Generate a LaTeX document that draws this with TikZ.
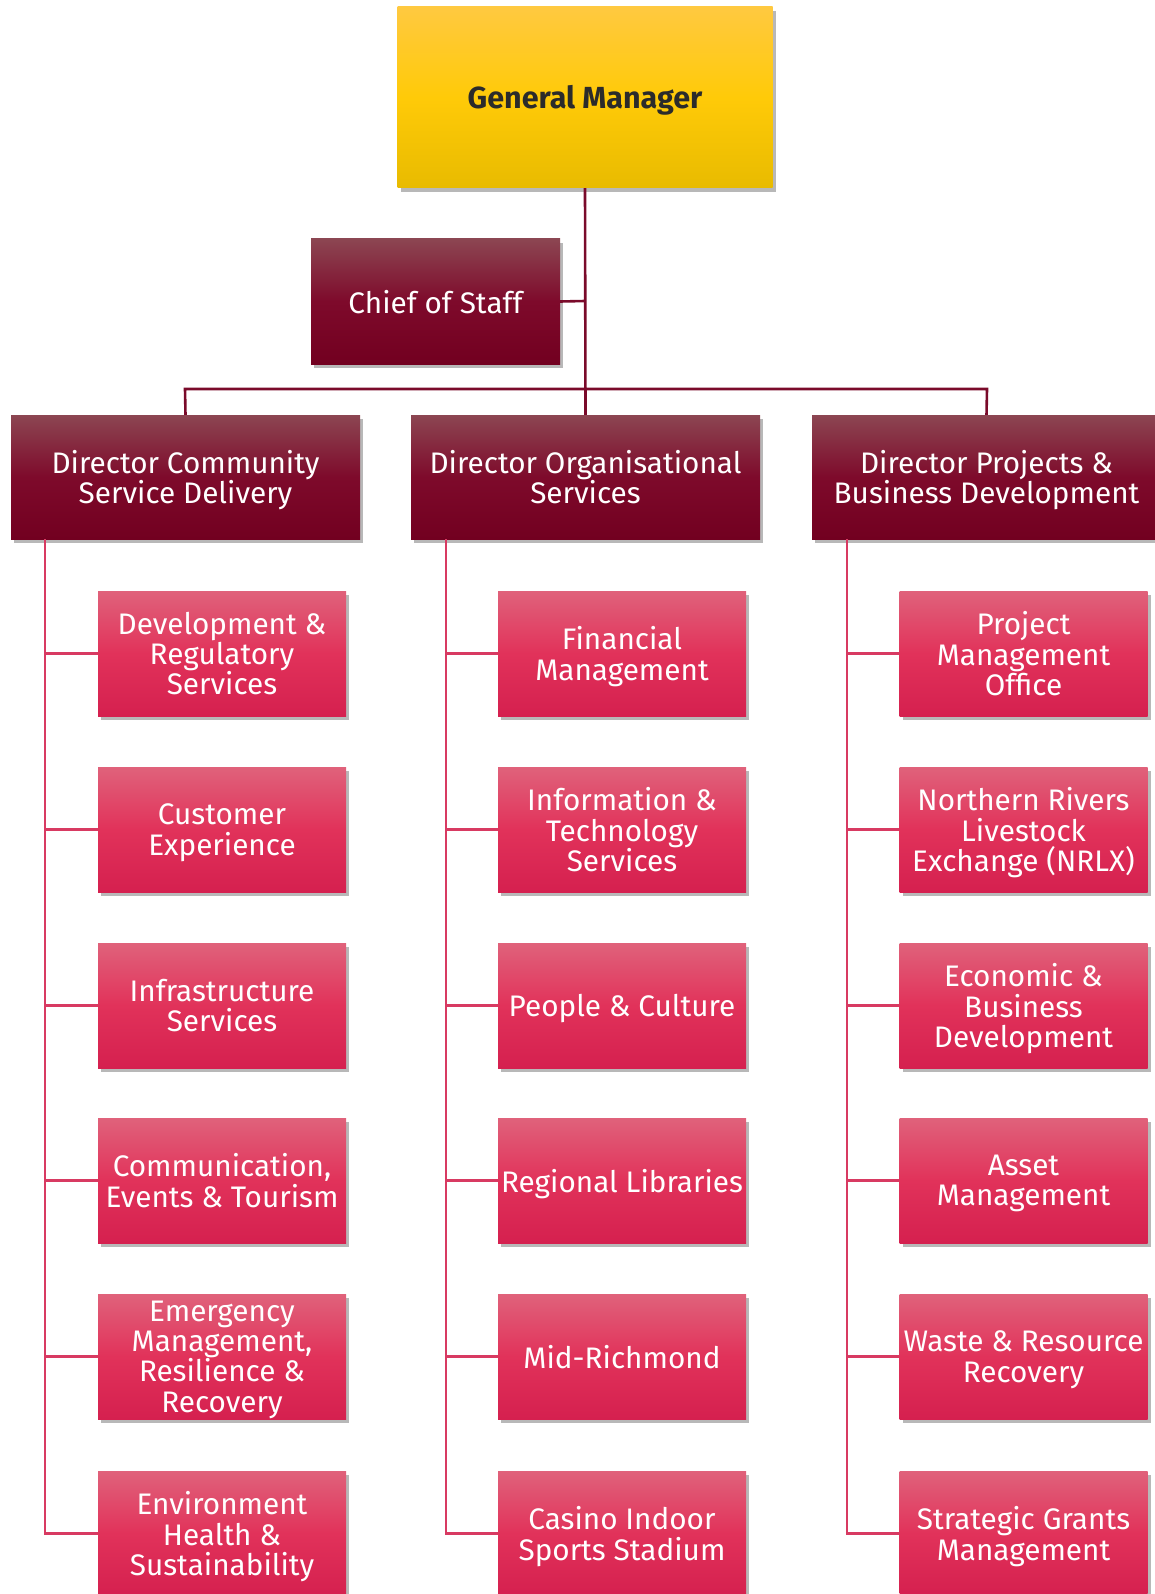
\documentclass[tikz,border=0pt]{standalone}
\usepackage{fontspec}
\setmainfont{Fira Sans}
\usetikzlibrary{shadows}
\definecolor{gmtop}{HTML}{FFC940}
\definecolor{gmmid}{HTML}{FFCA08}
\definecolor{gmbot}{HTML}{E8BB00}
\definecolor{dirtop}{HTML}{8C4652}
\definecolor{dirmid}{HTML}{7E0A2B}
\definecolor{dirbot}{HTML}{720020}
\definecolor{subtop}{HTML}{E0627B}
\definecolor{submid}{HTML}{E1325A}
\definecolor{subbot}{HTML}{D5204F}
\definecolor{darkline}{HTML}{7A0A2A}
\definecolor{pinkline}{HTML}{D83A62}
\definecolor{gmtext}{HTML}{2B2B2B}
\tikzset{
  boxshadow/.style={drop shadow={shadow xshift=3pt, shadow yshift=-4pt, opacity=0.28, fill=black}},
  strutted/.style={execute at begin node=\strut, execute at end node=\strut},
  gmbox/.style={boxshadow, rectangle, minimum width=375pt, minimum height=181pt, inner sep=0pt,
    top color=gmtop, bottom color=gmbot, middle color=gmmid},
  gmlabel/.style={strutted, inner sep=0pt, text=gmtext, font=\fontsize{30.5}{32}\selectfont\bfseries, align=center},
  dirbox/.style={boxshadow, rectangle, minimum width=349pt, minimum height=124pt, inner sep=0pt,
    top color=dirtop, bottom color=dirbot, middle color=dirmid},
  dirlabel/.style={strutted, inner sep=0pt, text=white, font=\fontsize{29.7}{30}\selectfont, align=center},
  cosbox/.style={dirbox, minimum width=249pt, minimum height=125pt},
  coslabel/.style={dirlabel},
  subbox/.style={boxshadow, rectangle, minimum width=248pt, minimum height=125pt, inner sep=0pt,
    top color=subtop, bottom color=subbot, middle color=submid},
  sublabel/.style={strutted, inner sep=0pt, text=white, font=\fontsize{29.7}{30.3}\selectfont, align=center},
  topline/.style={draw=darkline, line width=2.6pt},
  subline/.style={draw=pinkline, line width=2.6pt},
}
\newcommand\orgnode[4]{%
  \node[#1box] (#2) at (#3) {};
  \node[#1label] (#2-t) at ([yshift=-4.5pt]#2.center) {#4};}
\begin{document}
\begin{tikzpicture}[x=1pt,y=-1pt]
\useasboundingbox (0,0) rectangle (1155,1594);
\clip (0,0) rectangle (1155,1594);
\coordinate (busL) at (185,389);
\coordinate (busR) at (987,389);
\coordinate (cosJ) at (585,301);
% top nodes
\orgnode{gm}{gm}{585,97.5}{General Manager}
\orgnode{cos}{cos}{435.5,301.5}{Chief of Staff}
\orgnode{dir}{d1}{185.5,477}{Director Community\\Service Delivery}
\orgnode{dir}{d2}{585.5,477}{Director Organisational\\Services}
\orgnode{dir}{d3}{986.5,477}{Director Projects \&\\Business Development}
% sub nodes
\orgnode{sub}{a1}{222,653.5}{Development \&\\Regulatory\\Services}
\orgnode{sub}{a2}{222,829.5}{Customer\\Experience}
\orgnode{sub}{a3}{222,1005.5}{Infrastructure\\Services}
\orgnode{sub}{a4}{222,1180.5}{Communication,\\Events \& Tourism}
\orgnode{sub}{a5}{222,1356.5}{Emergency\\Management,\\Resilience \&\\Recovery}
\orgnode{sub}{a6}{222,1533.5}{Environment\\Health \&\\Sustainability}
\orgnode{sub}{b1}{622,653.5}{Financial\\Management}
\orgnode{sub}{b2}{622,829.5}{Information \&\\Technology\\Services}
\orgnode{sub}{b3}{622,1005.5}{People \& Culture}
\orgnode{sub}{b4}{622,1180.5}{Regional Libraries}
\orgnode{sub}{b5}{622,1356.5}{Mid-Richmond}
\orgnode{sub}{b6}{622,1533.5}{Casino Indoor\\Sports Stadium}
\orgnode{sub}{c1}{1023.5,653.5}{Project\\Management\\Office}
\orgnode{sub}{c2}{1023.5,829.5}{Northern Rivers\\Livestock\\Exchange (NRLX)}
\orgnode{sub}{c3}{1023.5,1005.5}{Economic \&\\Business\\Development}
\orgnode{sub}{c4}{1023.5,1180.5}{Asset\\Management}
\orgnode{sub}{c5}{1023.5,1356.5}{Waste \& Resource\\Recovery}
\orgnode{sub}{c6}{1023.5,1533.5}{Strategic Grants\\Management}
% trunk coordinates
\coordinate (tA) at (45,539);
\coordinate (tB) at (446,539);
\coordinate (tC) at (847,539);
% connectors
\draw[topline] (gm.south) -- (d2.north);
\draw[topline] (cos.east) -- (cosJ);
\draw[topline] (d1.north) -- (busL) -- (busR) -- (d3.north);
\foreach \t/\c in {tA/a,tB/b,tC/c} {
  \draw[subline] (\t) |- (\c6.west);
  \foreach \k in {1,...,5} {
    \draw[subline] (\c\k.west -| \t) -- (\c\k.west);
  }
}
\end{tikzpicture}
\end{document}
